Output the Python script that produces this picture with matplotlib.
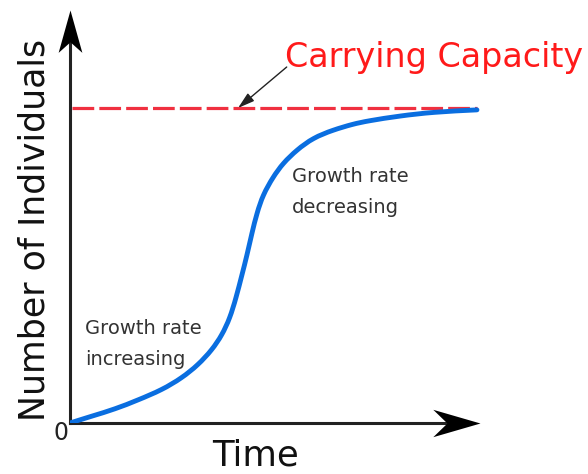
import matplotlib.pyplot as plt
from matplotlib.path import Path
from matplotlib.patches import PathPatch

# logistic growth curve (time units, individuals)
time = [0, 1.08, 2.21, 3.34, 4.52, 5.5, 6.29, 6.98, 7.47, 7.86, 8.16, 8.45,
        8.7, 8.94, 9.19, 9.48, 9.98, 10.47, 11.15, 11.94, 12.92, 13.91,
        14.64, 16.22, 17.84, 20.0]
individuals = [0, 22, 44, 73, 105, 143, 184, 232, 279, 333, 397, 470,
               533, 603, 667, 724, 781, 825, 867, 905, 930, 949,
               959, 975, 987, 994]
capacity = 1000
t_end = 20.0

fig = plt.figure(figsize=(5.88, 4.74), dpi=100)
ax = fig.add_axes([70 / 588, 51 / 474, 410 / 588, 413 / 474])
ax.set_xlim(0, 20.15)
ax.set_ylim(0, 1311)
ax.axis('off')

axis_col = '#222222'
text_col = '#333333'

# axis lines with stealth-like heads
ax.plot([0, 0.97], [0, 0], transform=ax.transAxes, color=axis_col, lw=2.2,
        clip_on=False)
ax.plot([0, 0], [0, 0.97], transform=ax.transAxes, color=axis_col, lw=2.2,
        clip_on=False)
head_x = Path([(0, 0), (-1, 0.29), (-0.7, 0), (-1, -0.29), (0, 0)],
              [Path.MOVETO, Path.LINETO, Path.LINETO, Path.LINETO, Path.CLOSEPOLY])
head_y = Path([(0, 0), (0.28, -1), (0, -0.75), (-0.28, -1), (0, 0)],
              [Path.MOVETO, Path.LINETO, Path.LINETO, Path.LINETO, Path.CLOSEPOLY])
ax.plot([1], [0], transform=ax.transAxes, marker=head_x, markersize=68,
        color='black', markeredgewidth=0, clip_on=False)
ax.plot([0], [1], transform=ax.transAxes, marker=head_y, markersize=61,
        color='black', markeredgewidth=0, clip_on=False)

ax.plot([0.1, t_end], [capacity, capacity], color='#f03040', lw=2.3,
        dashes=(6.8, 1.6), zorder=2)

# smooth curve: cubic B-spline over the read points, ends pinned
pts = list(zip(time, individuals))
first = (2 * pts[0][0] - pts[1][0], 2 * pts[0][1] - pts[1][1])
last = (2 * pts[-1][0] - pts[-2][0], 2 * pts[-1][1] - pts[-2][1])
ctrl = [first] + pts + [last]


def mix(a, b, c, wa, wb, wc):
    return ((wa * a[0] + wb * b[0] + wc * c[0]) / 6,
            (wa * a[1] + wb * b[1] + wc * c[1]) / 6)


verts = [mix(ctrl[0], ctrl[1], ctrl[2], 1, 4, 1)]
codes = [Path.MOVETO]
for i in range(1, len(ctrl) - 2):
    p0, p1, p2, p3 = ctrl[i - 1], ctrl[i], ctrl[i + 1], ctrl[i + 2]
    verts += [mix(p1, p2, p2, 4, 2, 0), mix(p1, p2, p2, 2, 4, 0),
              mix(p1, p2, p3, 1, 4, 1)]
    codes += [Path.CURVE4] * 3
ax.add_patch(PathPatch(Path(verts, codes), fill=False, edgecolor='#0a6ee0',
                       lw=3.5, capstyle='round', joinstyle='round', zorder=3))

ax.text(10.57, 1130, 'Carrying Capacity', color='#ff1a1a', fontsize=24,
        va='baseline')
ax.annotate('', xy=(8.26, capacity), xytext=(10.65, 1130),
            arrowprops=dict(arrowstyle='-|>,head_length=1.0,head_width=0.3',
                            mutation_scale=10, color='#222222', lw=1,
                            shrinkA=0, shrinkB=0))
ax.text(0.74, 330, 'Growth rate\nincreasing', fontsize=14, color=text_col,
        va='top', linespacing=1.8)
ax.text(10.9, 812, 'Growth rate\ndecreasing', fontsize=14, color=text_col,
        va='top', linespacing=1.8)

ax.text(-0.022, -0.025, '0', transform=ax.transAxes, fontsize=17,
        ha='center', va='center', color=axis_col)
fig.text(256 / 588, 1 - 466 / 474, 'Time', fontsize=25.5, ha='center',
         va='baseline', color='#111111')
fig.text(45 / 588, 1 - 230 / 474, 'Number of Individuals', fontsize=25,
         rotation=90, rotation_mode='anchor', ha='center', va='baseline',
         color='#111111')

fig.savefig('out.png', dpi=100)
